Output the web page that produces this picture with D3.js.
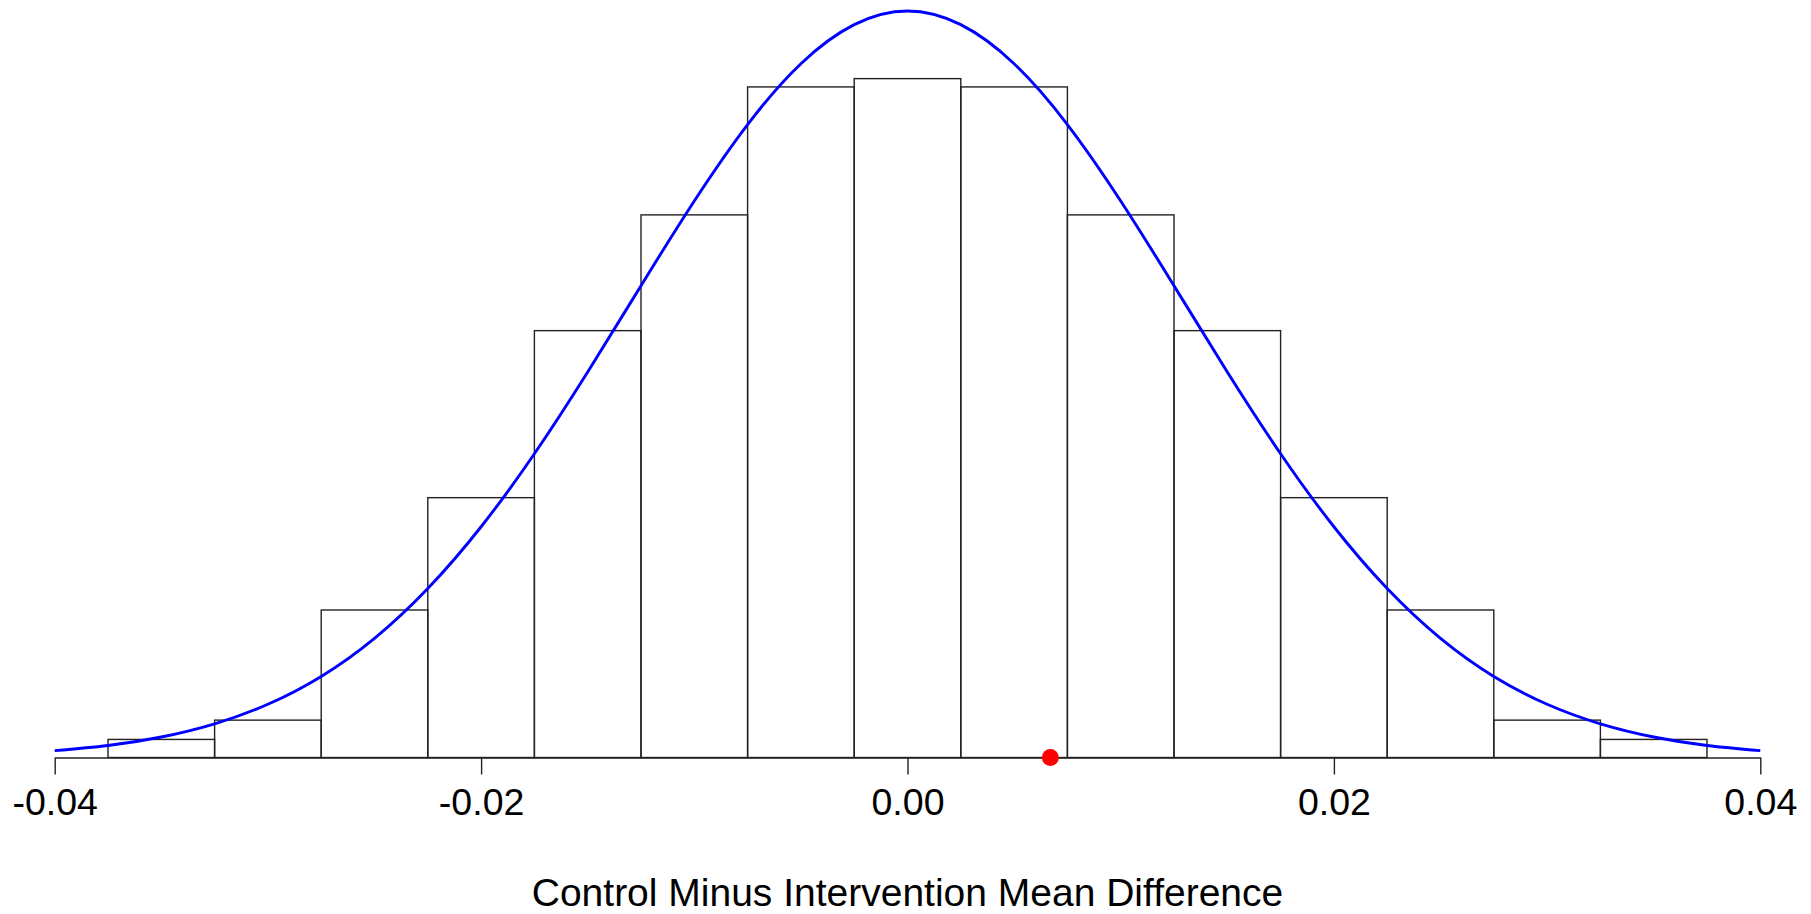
<!DOCTYPE html>
<html>
<head>
<meta charset="utf-8">
<script src="https://cdn.jsdelivr.net/npm/d3@7"></script>
<style>
  html, body { margin: 0; padding: 0; background: #fff; }
  svg { display: block; font-family: "Liberation Sans", Arial, sans-serif; }
</style>
</head>
<body>
<div id="chart"></div>
<script>
// Histogram bins (left edge, right edge) and density heights
const binStarts = [-0.0375, -0.0325, -0.0275, -0.0225, -0.0175, -0.0125, -0.0075, -0.0025,
                   0.0025, 0.0075, 0.0125, 0.0175, 0.0225, 0.0275, 0.0325];
const binWidth = 0.005;
const binDensity = [0.74, 1.53, 6.04, 10.64, 17.48, 22.22, 27.46, 27.8,
                    27.46, 22.22, 17.48, 10.64, 6.04, 1.53, 0.74];

// Blue density curve
const curveX = [-0.04, -0.0375, -0.035, -0.0325, -0.03, -0.0275, -0.025, -0.0225, -0.02,
                -0.0175, -0.015, -0.0125, -0.01, -0.0075, -0.005, -0.0025, 0,
                0.0025, 0.005, 0.0075, 0.01, 0.0125, 0.015, 0.0175, 0.02,
                0.0225, 0.025, 0.0275, 0.03, 0.0325, 0.035, 0.0375, 0.04];
const curveY = [0.28, 0.49, 0.84, 1.38, 2.18, 3.32, 4.88, 6.92, 9.45,
                12.44, 15.79, 19.32, 22.79, 25.92, 28.41, 30.01, 30.57,
                30.01, 28.41, 25.92, 22.79, 19.32, 15.79, 12.44, 9.45,
                6.92, 4.88, 3.32, 2.18, 1.38, 0.84, 0.49, 0.28];

// Observed difference (red point)
const observed = 0.0067;

const tickValues = [-0.04, -0.02, 0.00, 0.02, 0.04];
const xTitle = "Control Minus Intervention Mean Difference";

const width = 1811, height = 914;
const baseY = 757.5;

const svg = d3.select("#chart")
    .append("svg")
    .attr("width", width)
    .attr("height", height);

const x = d3.scaleLinear()
    .domain([-0.04, 0.04])
    .range([54.7, 1760.3]);

const y = d3.scaleLinear()
    .domain([0, 31])
    .range([baseY, baseY - 31 * 24.42]);

// histogram bars
svg.append("g")
    .selectAll("rect")
    .data(binStarts)
    .enter().append("rect")
    .attr("x", d => x(d))
    .attr("width", d => x(d + binWidth) - x(d))
    .attr("y", (d, i) => y(binDensity[i]))
    .attr("height", (d, i) => y(0) - y(binDensity[i]))
    .attr("fill", "none")
    .attr("stroke", "#222")
    .attr("stroke-width", 1.4);

// density curve
const line = d3.line()
    .x(d => x(d[0]))
    .y(d => y(d[1]))
    .curve(d3.curveNatural);

svg.append("path")
    .datum(d3.zip(curveX, curveY))
    .attr("d", line)
    .attr("fill", "none")
    .attr("stroke", "#0000ff")
    .attr("stroke-width", 2.9);

// x axis
const xAxis = d3.axisBottom(x)
    .tickValues(tickValues)
    .tickFormat(d => d.toFixed(2))
    .tickSizeInner(17)
    .tickSizeOuter(0)
    .tickPadding(14);

const axisG = svg.append("g")
    .attr("transform", `translate(0,${baseY})`)
    .call(xAxis);

axisG.select(".domain").attr("stroke", "#222").attr("stroke-width", 1.4);
axisG.selectAll(".tick line").attr("stroke", "#222").attr("stroke-width", 1.4);
axisG.selectAll(".tick text")
    .attr("fill", "#000")
    .style("font-size", "37.5px")
    .style("font-family", "'Liberation Sans', Arial, sans-serif");

// observed point
svg.append("circle")
    .attr("cx", x(observed))
    .attr("cy", baseY)
    .attr("r", 8.5)
    .attr("fill", "#ff0000");

// axis title
svg.append("text")
    .attr("x", x(0))
    .attr("y", 906)
    .attr("text-anchor", "middle")
    .style("font-size", "39px")
    .attr("fill", "#000")
    .text(xTitle);
</script>
</body>
</html>
